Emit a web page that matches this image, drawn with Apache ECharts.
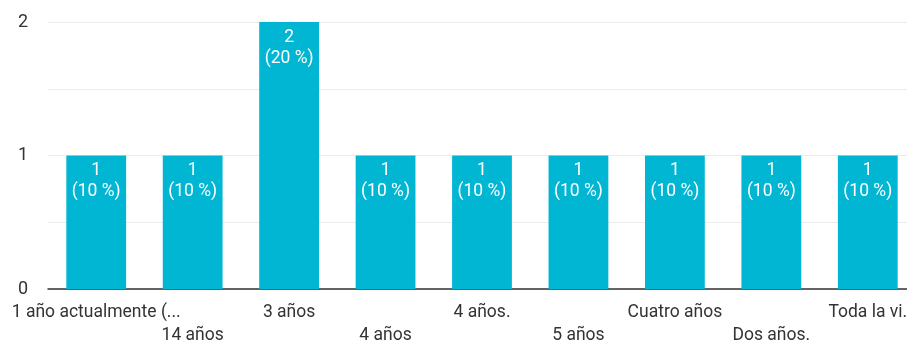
<!DOCTYPE html>
<html><head><meta charset="utf-8">
<script src="https://cdn.jsdelivr.net/npm/echarts@6/dist/echarts.min.js"></script>
<style>html,body{margin:0;padding:0;background:#fff}#c{width:907px;height:340px}</style>
</head><body><div id="c"></div>
<script>
const categories = ["1 año actualmente (...", "14 años", "3 años", "4 años", "4 años.", "5 años", "Cuatro años", "Dos años.", "Toda la vi."];
const counts = [1, 1, 2, 1, 1, 1, 1, 1, 1];
const percents = ["10 %", "10 %", "20 %", "10 %", "10 %", "10 %", "10 %", "10 %", "10 %"];
const yTicks = [0, 1, 2];

const chart = echarts.init(document.getElementById('c'));
chart.setOption({
  animation: false,
  textStyle: { fontFamily: 'Roboto' },
  grid: { left: 48, right: -9, top: 22, bottom: 51, containLabel: false, outerBoundsMode: 'none' },
  xAxis: {
    type: 'category', data: categories,
    axisLine: { lineStyle: { color: '#333', width: 1.5 } },
    axisTick: { show: false },
    axisLabel: {
      interval: 0, color: '#333', fontSize: 17.5, fontFamily: 'Roboto', margin: 12, lineHeight: 23,
      formatter: (v, i) => (i % 2 === 1 ? '\n' + v : v)
    }
  },
  yAxis: {
    type: 'value', min: 0, max: 2, interval: 0.5,
    axisLine: { show: false }, axisTick: { show: false },
    splitLine: { lineStyle: { color: '#ececec', width: 1 } },
    axisLabel: {
      color: '#333', fontSize: 18, fontFamily: 'Roboto', margin: 20,
      formatter: v => (yTicks.includes(v) ? String(v) : '')
    }
  },
  series: [{
    type: 'bar', data: counts, barWidth: '62%',
    itemStyle: { color: '#00b6d3' },
    label: {
      show: true, position: 'insideTop', distance: 5, color: '#fff', fontSize: 17.5, lineHeight: 21,
      fontFamily: 'Roboto',
      formatter: p => p.value + '\n(' + percents[p.dataIndex] + ')'
    }
  }]
});
</script></body></html>
